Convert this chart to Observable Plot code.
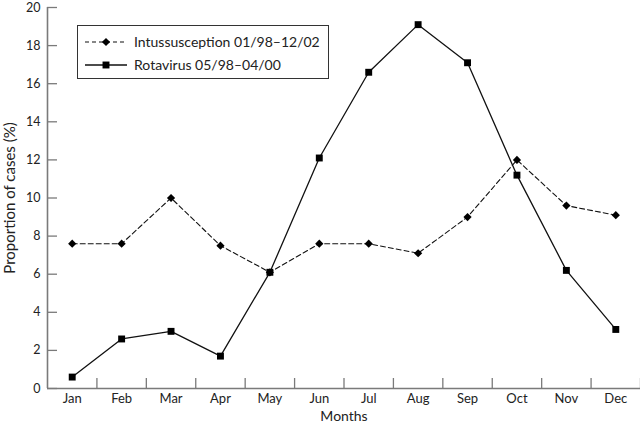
<!DOCTYPE html>
<html><head><meta charset="utf-8">
<script src="https://cdn.jsdelivr.net/npm/d3@7"></script>
<script src="https://cdn.jsdelivr.net/npm/@observablehq/plot@0.6"></script>
<style>
body{margin:0;background:#fff}
#chart svg{font-family:Lato,"Noto Sans",sans-serif;overflow:visible}
</style>
</head><body><div id="chart"></div>
<script>
const months = ["Jan","Feb","Mar","Apr","May","Jun","Jul","Aug","Sep","Oct","Nov","Dec"];
const intussusception = [7.6,7.6,10.0,7.5,6.1,7.6,7.6,7.1,9.0,12.0,9.6,9.1];
const rotavirus = [0.6,2.6,3.0,1.7,6.1,12.1,16.6,19.1,17.1,11.2,6.2,3.1];
const seriesNames = ["Intussusception 01/98\u201312/02","Rotavirus 05/98\u201304/00"];
const yTicks = [0,2,4,6,8,10,12,14,16,18,20];
const xLabel = "Months";
const yLabel = "Proportion of cases (%)";

const rowsI = months.map((m,i)=>({idx:i+1, month:m, value:intussusception[i], series:seriesNames[0]}));
const rowsR = months.map((m,i)=>({idx:i+1, month:m, value:rotavirus[i], series:seriesNames[1]}));
const idx = months.map((m,i)=>i+1);
const bounds = months.map((m,i)=>i+1.5);

const axisColor = "#7a7a7a";
const textColor = "#222";

const chart = Plot.plot({
  width: 640, height: 423,
  marginLeft: 47, marginRight: 0, marginTop: 7, marginBottom: 35,
  style: {color: textColor, background: "#fff"},
  x: {type: "linear", domain: [0.5, 12.5]},
  y: {domain: [0, 20]},
  marks: [
    Plot.axisX({ticks: idx, tickFormat: i => months[i-1], tickSize: 0, tickPadding: 5, fill: textColor, fontSize: 13, label: null}),
    Plot.axisX({ticks: [], label: xLabel, labelAnchor: "center", labelOffset: 32, labelArrow: "none", fontSize: 14, fill: textColor}),
    Plot.axisX({ticks: bounds, tickFormat: () => "", tickSize: -10, stroke: axisColor, label: null, strokeWidth: 1.3}),
    Plot.axisY({ticks: yTicks, tickSize: 0, tickPadding: 7, fill: textColor, fontSize: 12.5, label: null}),
    Plot.axisY({ticks: [], label: yLabel, labelAnchor: "center", labelOffset: 43, labelArrow: "none", fontSize: 15, fill: textColor, dx: -10}),
    Plot.axisY({ticks: yTicks, tickFormat: () => "", tickSize: -10, stroke: axisColor, label: null, strokeWidth: 1.3}),
    Plot.ruleY([0], {stroke: axisColor, strokeWidth: 1.6}),
    Plot.ruleX([0.5], {stroke: axisColor, strokeWidth: 1.6}),
    Plot.line(rowsI, {x: "idx", y: "value", stroke: "#111", strokeWidth: 1.1, strokeDasharray: "5,3"}),
    Plot.line(rowsR, {x: "idx", y: "value", stroke: "#111", strokeWidth: 1.3}),
    Plot.dot(rowsI, {x: "idx", y: "value", symbol: "diamond2", r: 3.7, fill: "#000", stroke: "none"}),
    Plot.dot(rowsR, {x: "idx", y: "value", symbol: "square", r: 3.9, fill: "#000", stroke: "none"})
  ]
});
document.getElementById("chart").appendChild(chart);

// legend inside the plot area
const svg = d3.select(chart);
const lg = svg.append("g").attr("class","legend");
lg.append("rect").attr("x",77.5).attr("y",25.5).attr("width",251).attr("height",53)
  .attr("fill","#fff").attr("stroke","#333").attr("stroke-width",1);
const rowsY = [42, 65];
seriesNames.forEach((name,k)=>{
  const yy = rowsY[k];
  lg.append("line").attr("x1",85).attr("x2",127).attr("y1",yy).attr("y2",yy)
    .attr("stroke","#111").attr("stroke-width",k===0?1.1:1.3)
    .attr("stroke-dasharray",k===0?"4,3":null);
  lg.append("path").attr("transform",`translate(106,${yy})`)
    .attr("d", d3.symbol(k===0?d3.symbolDiamond2:d3.symbolSquare, k===0?43:48)())
    .attr("fill","#000");
  lg.append("text").attr("x",134).attr("y",yy).attr("dy","0.35em")
    .attr("text-anchor","start")
    .attr("font-size","14px").attr("fill",textColor).text(name);
});
</script>
</body></html>
